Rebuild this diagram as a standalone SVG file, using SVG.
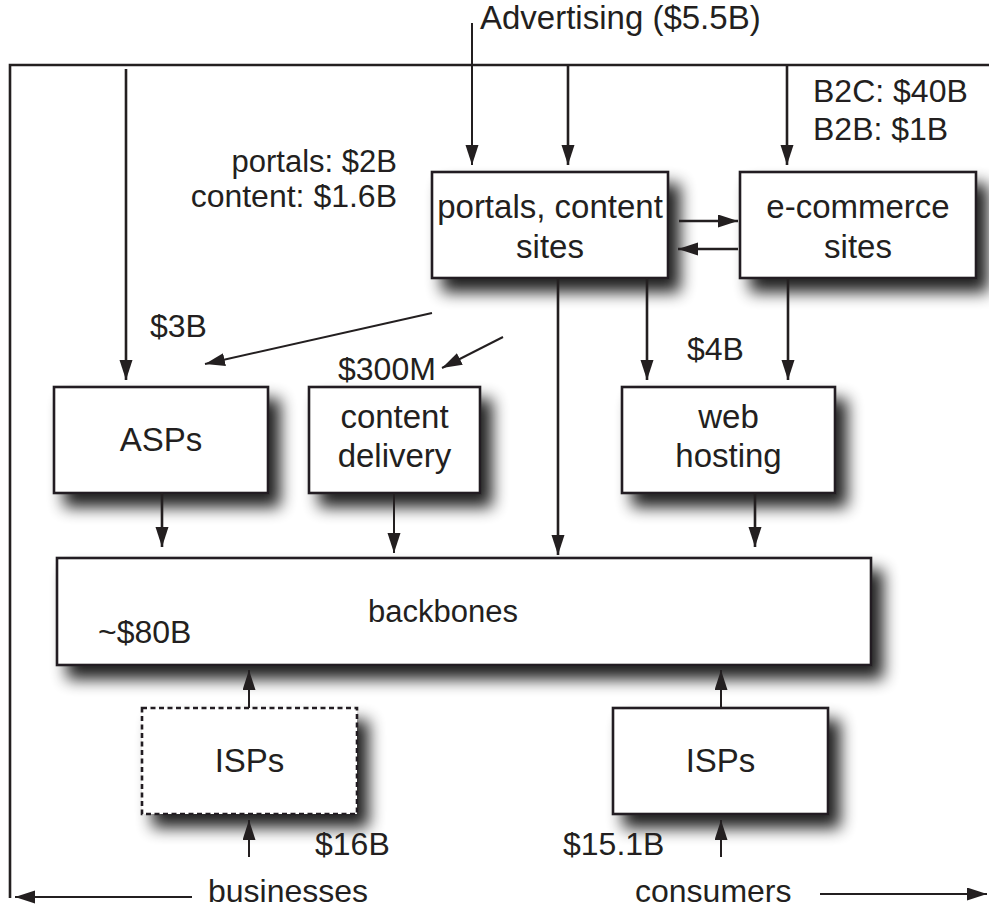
<svg xmlns="http://www.w3.org/2000/svg" width="989" height="909" viewBox="0 0 989 909">
<style>
  text { font-family: "Liberation Sans", Arial, sans-serif; fill: #231f20; }
  .lbl { font-size: 33px; text-anchor: middle; }
  .ann { font-size: 32px; }
  .box { fill: #ffffff; stroke: #231f20; stroke-width: 2.6; filter: url(#sh); }
  .dash { stroke-dasharray: 5 3.5; }
  .ln { fill: none; stroke: #231f20; stroke-width: 2.6; }
  .thin { stroke-width: 2; }
  .arr { marker-end: url(#ah); }
</style>
<defs>
  <filter id="sh" x="-20%" y="-30%" width="150%" height="190%">
    <feGaussianBlur in="SourceAlpha" stdDeviation="8"/>
    <feOffset dx="11" dy="13" result="b"/>
    <feComponentTransfer><feFuncA type="linear" slope="0.88"/></feComponentTransfer>
    <feMerge><feMergeNode/><feMergeNode in="SourceGraphic"/></feMerge>
  </filter>
  <marker id="ah" markerUnits="userSpaceOnUse" markerWidth="22" markerHeight="14" refX="20" refY="6.5" orient="auto">
    <path d="M0,0 L20,6.5 L0,13 z" fill="#231f20"/>
  </marker>
</defs>
<rect width="989" height="909" fill="#ffffff"/>

<g id="node-portals">
  <rect class="box" x="432" y="172" width="236" height="106"/>
  <text class="lbl" x="550" y="218">portals, content</text>
  <text class="lbl" x="550" y="258">sites</text>
</g>
<g id="node-ecommerce">
  <rect class="box" x="740" y="172" width="236" height="106"/>
  <text class="lbl" x="858" y="218">e-commerce</text>
  <text class="lbl" x="858" y="258">sites</text>
</g>
<g id="node-asps">
  <rect class="box" x="54" y="387" width="214" height="106"/>
  <text class="lbl" x="161" y="451">ASPs</text>
</g>
<g id="node-content-delivery">
  <rect class="box" x="309" y="387" width="171" height="106"/>
  <text class="lbl" x="394.5" y="428">content</text>
  <text class="lbl" x="394.5" y="467">delivery</text>
</g>
<g id="node-web-hosting">
  <rect class="box" x="622" y="387" width="213" height="106"/>
  <text class="lbl" x="728.5" y="428">web</text>
  <text class="lbl" x="728.5" y="467">hosting</text>
</g>
<g id="node-backbones">
  <rect class="box" x="57" y="558" width="814" height="107"/>
  <text class="ann" x="368" y="622" style="font-size:31px">backbones</text>
  <text class="ann" x="98" y="643">~$80B</text>
</g>
<g id="node-isps-business">
  <rect class="box dash" x="142" y="708" width="215" height="106"/>
  <text class="lbl" x="249.5" y="772">ISPs</text>
</g>
<g id="node-isps-consumer">
  <rect class="box" x="613" y="708" width="215" height="106"/>
  <text class="lbl" x="720.5" y="772">ISPs</text>
</g>

<g id="connectors">
  <polyline class="ln" points="989,65 10,65 10,898"/>
  <line class="ln thin arr" x1="472" y1="23" x2="472" y2="165"/>
  <line class="ln arr" x1="568" y1="65" x2="568" y2="165"/>
  <line class="ln arr" x1="787" y1="65" x2="787" y2="165"/>
  <line class="ln arr" x1="126" y1="69" x2="126" y2="380"/>
  <line class="ln arr" x1="679" y1="221" x2="738" y2="221"/>
  <line class="ln arr" x1="738" y1="249" x2="678" y2="249"/>
  <line class="ln arr" x1="558" y1="278" x2="558" y2="555"/>
  <line class="ln arr" x1="647" y1="278" x2="647" y2="380"/>
  <line class="ln arr" x1="788" y1="278" x2="788" y2="380"/>
  <line class="ln thin arr" x1="432" y1="313" x2="205" y2="364"/>
  <line class="ln thin arr" x1="503" y1="337" x2="442" y2="368"/>
  <line class="ln arr" x1="162" y1="493" x2="162" y2="547"/>
  <line class="ln thin arr" x1="394" y1="493" x2="394" y2="553"/>
  <line class="ln arr" x1="755" y1="493" x2="755" y2="547"/>
  <line class="ln thin arr" x1="249" y1="708" x2="249" y2="670"/>
  <line class="ln thin arr" x1="721" y1="708" x2="721" y2="670"/>
  <line class="ln thin arr" x1="249" y1="857" x2="249" y2="820"/>
  <line class="ln thin arr" x1="721" y1="857" x2="721" y2="820"/>
  <line class="ln thin arr" x1="192" y1="897" x2="15" y2="897"/>
  <line class="ln thin arr" x1="820" y1="894" x2="987" y2="894"/>
</g>

<g id="labels">
  <text class="ann" x="480" y="29" style="font-size:33px">Advertising ($5.5B)</text>
  <text class="ann" x="813" y="102">B2C: $40B</text>
  <text class="ann" x="813" y="140">B2B: $1B</text>
  <text class="ann" x="397" y="172" text-anchor="end" style="font-size:31px">portals: $2B</text>
  <text class="ann" x="397" y="207" text-anchor="end">content: $1.6B</text>
  <text class="ann" x="150" y="337">$3B</text>
  <text class="ann" x="338" y="380">$300M</text>
  <text class="ann" x="687" y="360">$4B</text>
  <text class="ann" x="315" y="855">$16B</text>
  <text class="ann" x="563" y="855">$15.1B</text>
  <text class="ann" x="208" y="902">businesses</text>
  <text class="ann" x="635" y="902">consumers</text>
</g>
</svg>
